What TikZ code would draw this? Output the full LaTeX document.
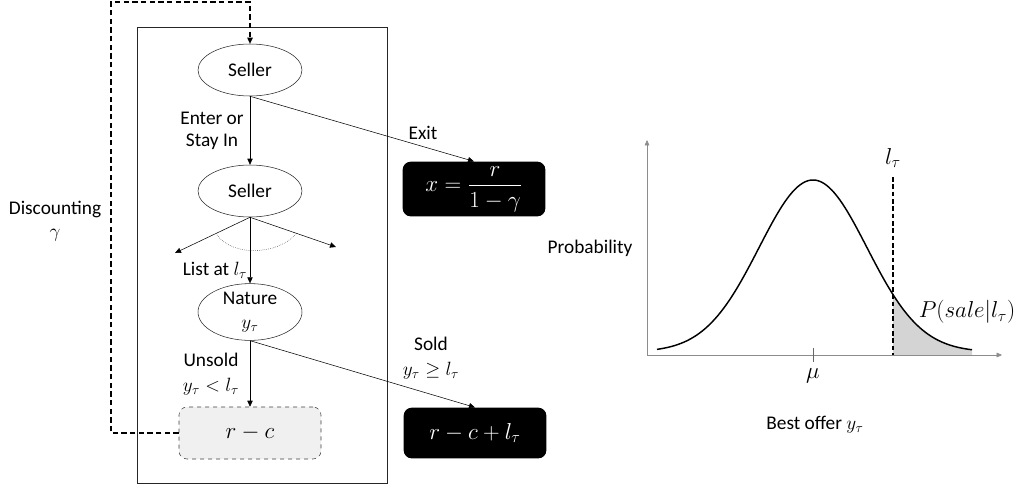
\documentclass[tikz,border=0pt]{standalone}
\usepackage{amsmath}
\usepackage{amssymb}
\usepackage{fontspec}
\setmainfont{Carlito}
\usetikzlibrary{arrows.meta,positioning,shapes.geometric}

\begin{document}
\begin{tikzpicture}[x=0.75pt, y=-0.75pt, font=\fontsize{14.5}{17}\selectfont,
    declare function={bell(\x)=352-172*exp(-0.5*((\x-813)/54)^2);}]
    \tikzset{choice/.style={ellipse, draw=black!85, fill=white, minimum width=78pt, minimum height=39pt, inner sep=0pt}}
    \tikzset{bigmath/.style={font=\fontsize{16.5}{19}\selectfont}}
    \tikzset{payoff/.style={rectangle, rounded corners=6pt, fill=black, text=white, minimum width=107pt, minimum height=38pt, bigmath}}
    \tikzset{carry/.style={rectangle, rounded corners=6pt, draw=black!75, dashed, fill=black!6, minimum width=106.5pt, minimum height=39pt, bigmath}}
    \tikzset{move/.style={draw=black, -{Triangle[length=4.5pt,width=4pt]}}}
    \tikzset{loopback/.style={draw=black, line width=1pt, dash pattern=on 4pt off 2.5pt, -{Triangle[length=4.5pt,width=4pt]}}}
    \tikzset{axis/.style={draw=black!45, -{Triangle[length=4pt,width=3.5pt]}}}

    \useasboundingbox (0,0) rectangle (1016,486);

    % STAGE FRAME
    \draw[black!85] (137,27) rectangle (387,483);

    % GAME TREE NODES
    \node[choice] (sellerA) at (250,70) {Seller};
    \node[choice] (sellerB) at (250,191) {Seller};
    \node[choice, minimum height=42pt, align=center] (nature) at (250,312) {Nature\\[1pt]$y_\tau$};
    \node[carry] (rest) at (250,433) {$r-c$};
    \node[payoff] (exitpay) at (474,189) {$x=\dfrac{r}{1-\gamma}$};
    \node[payoff] (soldpay) at (475,433) {$r-c+l_\tau$};
    \coordinate (branchL) at (175,253);
    \coordinate (branchR) at (336,247);
    \coordinate (loopL) at (111,2);

    % MOVES
    \draw[move] (sellerA.south) -- (sellerB.north);
    \draw[move] (sellerA.south) -- (exitpay.north);
    \draw[move] (sellerB.south) -- (branchL);
    \draw[move] (sellerB.south) -- (branchR);
    \draw[move] (sellerB.south) -- (nature.north);
    \draw[move] (nature.south) -- (rest.north);
    \draw[move] (nature.south) -- (soldpay.north);
    \draw[black!80, densely dotted] (217,235) .. controls (232,256) and (276,256) .. (296,234);

    % DISCOUNTING LOOP
    \draw[loopback] (rest.west) -| (loopL) -| (sellerA.north);

    % LABELS
    \node[align=center] at (212,131) {Enter or\\Stay In};
    \node at (423,133) {Exit};
    \node at (215,270) {List at $l_\tau$};
    \node[align=center] at (211,374) {Unsold\\[2pt]$y_\tau<l_\tau$};
    \node[align=center] at (431,358) {Sold\\[2pt]$y_\tau\geq l_\tau$};
    \node[align=center] at (55,221) {Discounting\\$\gamma$};

    % OFFER DISTRIBUTION
    \fill[black!17] (893,355) -- plot[domain=893:972, samples=30] (\x,{bell(\x)}) -- (972,355) -- cycle;
    \draw[axis] (647,355) -- (1002,355);
    \draw[axis] (647,355) -- (647,140);
    \draw[black, line width=1.1pt] plot[domain=657:972, samples=120, smooth] (\x,{bell(\x)});
    \draw[black!60] (813,348) -- (813,362);
    \draw[black, line width=0.9pt, dash pattern=on 3.5pt off 2pt] (893,177) -- (893,355);
    \node[bigmath] at (813,376) {$\mu$};
    \node[bigmath] at (893,158) {$l_\tau$};
    \node[bigmath] at (967,312) {$P(sale|l_\tau)$};
    \node at (590,248) {Probability};
    \node at (815,425) {Best offer $y_\tau$};
\end{tikzpicture}
\end{document}
